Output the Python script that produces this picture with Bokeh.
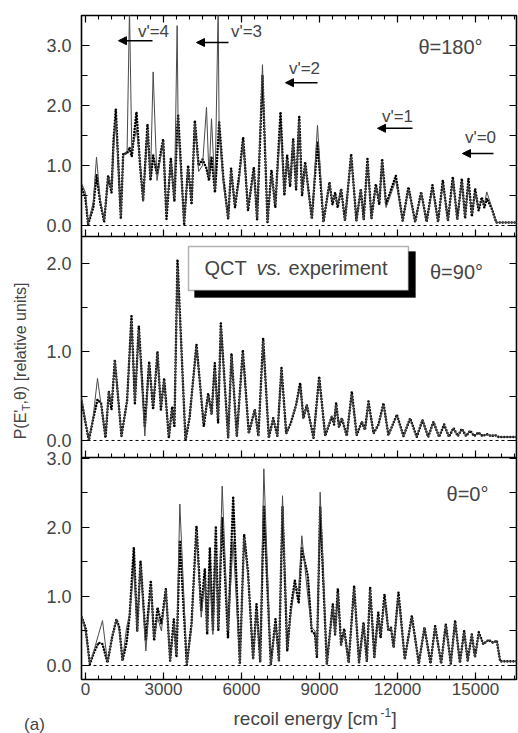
import math
from bokeh.plotting import figure
from bokeh.layouts import row, column
from bokeh.models import (LinearAxis, Range1d, Span, Label, Arrow, NormalHead,
                          BoxAnnotation, SingleIntervalTicker, FixedTicker)
from bokeh.embed import file_html
from bokeh.resources import INLINE

FONT = "Liberation Sans"
X_RANGE = (-154, 16577)

# ---------------- data: recoil energy [cm-1], experiment (dots), QCT (line) -------------
p1_x = [-150, 0, 100, 300, 423, 560, 718, 872, 1000, 1080, 1166, 1359, 1450, 1600, 1692, 1780,
        1961, 2100, 2217, 2384, 2500, 2602, 2750, 2987, 3115, 3282, 3420, 3525, 3564, 3795,
        3948, 4080, 4205, 4350, 4500, 4654, 4750, 4846, 4980, 5102, 5141, 5300, 5487, 5600,
        5750, 5900, 6064, 6250, 6474, 6600, 6807, 7000, 7153, 7300, 7500, 7650, 7756, 7870,
        7987, 8100, 8220, 8330, 8448, 8705, 8923, 9154, 9384, 9500, 9600, 9700, 9833, 9980,
        10218, 10420, 10589, 10700, 10845, 11000, 11166, 11300, 11410, 11560, 11935, 12200,
        12423, 12680, 12910, 13120, 13345, 13560, 13743, 13940, 14128, 14300, 14474, 14600,
        14730, 14860, 14987, 15120, 15243, 15340, 15435, 15628, 15800, 16600]
p1_exp = [0.65, 0.45, 0.02, 0.30, 0.85, 0.40, 0.06, 0.83, 0.55, 1.42, 1.94, 0.11, 1.20, 1.20, 1.30, 1.15,
          1.89, 1.00, 0.42, 1.69, 0.75, 1.17, 0.85, 1.44, 0.11, 1.11, 0.40, 1.60, 1.83, 0.03,
          1.00, 0.35, 1.75, 1.00, 1.10, 0.95, 0.75, 1.15, 0.55, 1.40, 1.72, 0.80, 0.11, 0.95,
          0.30, 0.80, 1.47, 0.25, 0.97, 0.10, 2.50, 0.06, 0.92, 0.30, 1.89, 0.50, 1.17, 0.65,
          1.44, 0.60, 1.83, 0.50, 1.06, 0.11, 1.40, 0.06, 0.72, 0.35, 0.55, 0.30, 0.61, 0.08,
          1.19, 0.08, 0.61, 0.10, 1.11, 0.12, 0.69, 0.35, 1.11, 0.35, 0.83, 0.08,
          0.64, 0.06, 0.56, 0.06, 0.67, 0.06, 0.75, 0.08, 0.81, 0.10, 0.78, 0.12,
          0.78, 0.15, 0.61, 0.25, 0.47, 0.30, 0.45, 0.28, 0.05, 0.05]
p1_qct = [0.70, 0.55, 0.02, 0.40, 1.14, 0.45, 0.08, 0.80, 0.60, 1.30, 1.75, 0.15, 1.15, 1.25, 3.60, 1.25,
          1.60, 1.05, 0.40, 1.60, 0.80, 2.56, 0.75, 1.40, 0.20, 1.05, 0.45, 3.33, 1.60, 0.05,
          0.95, 0.40, 1.70, 0.90, 1.00, 1.97, 0.80, 1.78, 0.60, 3.60, 1.50, 0.70, 0.12, 0.90,
          0.35, 0.70, 1.40, 0.30, 0.90, 0.12, 2.68, 0.06, 0.85, 0.35, 1.60, 0.55, 1.10, 0.70,
          1.40, 0.65, 1.75, 0.55, 1.00, 0.11, 1.67, 0.06, 0.70, 0.40, 0.50, 0.35, 0.60, 0.08,
          1.15, 0.08, 0.60, 0.10, 1.05, 0.12, 0.65, 0.40, 1.05, 0.30, 0.75, 0.08,
          0.60, 0.06, 0.55, 0.06, 0.62, 0.06, 0.70, 0.08, 0.75, 0.10, 0.72, 0.15,
          0.70, 0.20, 0.55, 0.30, 0.42, 0.35, 0.56, 0.30, 0.05, 0.05]

p2_x = [-150, 128, 300, 461, 600, 769, 897, 1000, 1128, 1384, 1600, 1769, 1900, 2051, 2282, 2448,
        2600, 2769, 2900, 3026, 3205, 3333, 3420, 3538, 3846, 4000, 4269, 4550, 4718, 4850,
        4974, 5100, 5205, 5487, 5615, 5820, 6051, 6280, 6512, 6650, 6833, 7050, 7220, 7380,
        7538, 7720, 7900, 8100, 8256, 8380, 8512, 8770, 8987, 9220, 9474, 9560, 9640, 9750,
        9860, 10050, 10243, 10430, 10628, 10750, 10884, 11080, 11270, 11461, 11650, 11974,
        12230, 12487, 12740, 12961, 13180, 13384, 13600, 13794, 13980, 14153, 14320, 14474,
        14640, 14794, 14950, 15115, 15270, 15435, 15600, 15756, 15884, 16600]
p2_exp = [0.44, 0.00, 0.25, 0.46, 0.42, 0.03, 0.55, 0.35, 0.91, 0.05, 0.45, 1.40, 0.42, 1.29, 0.15, 0.89,
          0.35, 1.00, 0.35, 0.70, 0.03, 0.38, 0.15, 2.04, 0.00, 0.25, 1.08, 0.16, 0.53, 0.30,
          0.87, 0.20, 1.32, 0.03, 0.98, 0.05, 1.02, 0.08, 0.35, 0.05, 1.15, 0.03, 0.25, 0.05,
          0.82, 0.08, 0.20, 0.40, 0.65, 0.25, 0.40, 0.03, 0.72, 0.05, 0.27, 0.18, 0.42, 0.15,
          0.25, 0.05, 0.55, 0.06, 0.21, 0.12, 0.44, 0.08, 0.18, 0.42, 0.06, 0.29,
          0.05, 0.25, 0.04, 0.23, 0.04, 0.21, 0.04, 0.18, 0.04, 0.14, 0.05, 0.13,
          0.05, 0.11, 0.05, 0.09, 0.05, 0.07, 0.05, 0.06, 0.04, 0.04]
p2_qct = [0.48, 0.00, 0.28, 0.70, 0.40, 0.05, 0.55, 0.40, 0.90, 0.05, 0.45, 1.35, 0.45, 1.25, 0.05, 0.85,
          0.40, 0.98, 0.40, 0.68, 0.05, 0.35, 0.20, 1.95, 0.02, 0.25, 1.05, 0.20, 0.50, 0.30,
          0.80, 0.25, 1.28, 0.03, 0.95, 0.05, 0.98, 0.08, 0.35, 0.05, 1.12, 0.03, 0.25, 0.05,
          0.80, 0.08, 0.20, 0.40, 0.60, 0.25, 0.40, 0.03, 0.70, 0.05, 0.28, 0.20, 0.40, 0.15,
          0.25, 0.05, 0.52, 0.06, 0.22, 0.12, 0.42, 0.08, 0.18, 0.40, 0.06, 0.28,
          0.05, 0.25, 0.04, 0.23, 0.04, 0.21, 0.04, 0.18, 0.04, 0.14, 0.05, 0.13,
          0.05, 0.11, 0.05, 0.09, 0.05, 0.07, 0.05, 0.06, 0.04, 0.04]

p3_x = [-150, 0, 167, 350, 500, 654, 846, 1025, 1192, 1300, 1423, 1580, 1700, 1859, 1990, 2115,
        2320, 2513, 2640, 2770, 2920, 3090, 3256, 3397, 3500, 3628, 3897, 4077, 4269, 4450,
        4590, 4680, 4782, 4900, 5013, 5110, 5256, 5480, 5679, 5936, 6102, 6250, 6448, 6577,
        6720, 6859, 7128, 7307, 7440, 7577, 7760, 7900, 8051, 8200, 8320, 8551, 8700, 8830,
        8900, 9025, 9282, 9512, 9600, 9705, 9830, 9950, 10120, 10333, 10520, 10692, 10820,
        10948, 11110, 11260, 11350, 11500, 11650, 11750, 11850, 12038, 12280, 12551, 12820,
        13038, 13270, 13448, 13680, 13858, 14050, 14217, 14400, 14564, 14700, 14858, 14980,
        15127, 15300, 15500, 15680, 15820, 15950, 16600]
p3_exp = [0.70, 0.55, 0.02, 0.21, 0.33, 0.31, 0.04, 0.41, 0.67, 0.55, 0.07, 0.33, 0.74, 1.71, 0.50, 1.52,
          0.36, 1.23, 0.36, 0.84, 0.60, 1.11, 0.07, 0.67, 0.12, 1.81, 0.01, 0.60, 2.02, 0.79,
          1.40, 0.45, 1.71, 0.50, 2.02, 0.50, 2.14, 0.40, 2.43, 0.02, 1.90, 1.35, 0.09, 0.89,
          0.05, 2.30, 0.01, 0.67, 0.07, 2.30, 0.21, 0.84, 1.23, 0.90, 1.70, 1.30, 0.50, 0.45,
          0.12, 2.30, 0.02, 0.89, 0.45, 1.11, 0.30, 0.53, 0.04, 1.15, 0.04, 0.62, 0.06,
          1.13, 0.12, 0.77, 0.40, 1.03, 0.50, 0.55, 0.26, 1.06, 0.09, 0.72, 0.03,
          0.55, 0.03, 0.57, 0.03, 0.60, 0.03, 0.65, 0.04, 0.50, 0.07, 0.45, 0.12,
          0.48, 0.31, 0.37, 0.33, 0.36, 0.06, 0.06]
p3_qct = [0.72, 0.50, 0.02, 0.25, 0.45, 0.65, 0.05, 0.40, 0.67, 0.50, 0.07, 0.55, 0.75, 1.40, 0.50, 1.45,
          0.21, 1.15, 0.40, 0.70, 0.50, 1.10, 0.07, 0.60, 0.15, 2.34, 0.01, 0.55, 1.95, 0.70,
          1.25, 0.50, 1.35, 0.45, 1.60, 0.55, 2.60, 0.50, 1.80, 0.02, 1.85, 1.30, 0.09, 0.80,
          0.05, 2.85, 0.01, 0.60, 0.07, 2.46, 0.25, 0.75, 1.15, 1.10, 1.88, 1.00, 0.55, 0.50,
          0.15, 2.51, 0.02, 0.85, 0.45, 1.05, 0.30, 0.50, 0.04, 1.12, 0.04, 0.60, 0.06,
          1.10, 0.12, 0.70, 0.45, 0.95, 0.50, 0.55, 0.26, 1.00, 0.09, 0.70, 0.03,
          0.55, 0.03, 0.55, 0.03, 0.58, 0.03, 0.62, 0.04, 0.48, 0.07, 0.45, 0.12,
          0.46, 0.31, 0.37, 0.33, 0.36, 0.06, 0.06]

panel_titles = ["\u03b8=180\u00b0", "\u03b8=90\u00b0", "\u03b8=0\u00b0"]
panel_y_labels = [[0, 1, 2, 3], [0, 1, 2], [0, 1, 2, 3]]
v_labels = ["v'=4", "v'=3", "v'=2", "v'=1", "v'=0"]
x_major_step = 3000
x_minor_step = 500

# ---------------- page geometry ----------------
LEFT_W = 40          # strip for the rotated y title
MAIN_W = 478
MAIN_H = 705
BOTTOM_H = 28        # strip for the x title and "(a)"

FRAME_H = 664
TOP_B = 15
panel_h = [221, 221, 222]                       # top, middle, bottom
panel_lims = [(-0.183, 3.5), (-0.192, 2.30), (-0.203, 3.014)]
panel_bottom = [FRAME_H - panel_h[0], FRAME_H - panel_h[0] - panel_h[1], 0]

p = figure(width=MAIN_W, height=MAIN_H, x_range=Range1d(*X_RANGE), y_range=Range1d(0, FRAME_H),
           output_backend="svg", toolbar_location=None,
           x_axis_location=None, y_axis_location=None,
           min_border_left=81 - LEFT_W, min_border_right=2, min_border_top=TOP_B,
           min_border_bottom=MAIN_H - TOP_B - FRAME_H)
p.grid.visible = False
p.outline_line_color = "black"
p.outline_line_width = 1.6
p.background_fill_color = "white"
p.border_fill_color = "white"

names = ["p1", "p2", "p3"]
for k in range(3):
    lo, hi = panel_lims[k]
    s = (hi - lo) / panel_h[k]
    p.extra_y_ranges[names[k]] = Range1d(lo - panel_bottom[k] * s, lo + (FRAME_H - panel_bottom[k]) * s)


def to_pos(k, v):
    lo, hi = panel_lims[k]
    return panel_bottom[k] + (v - lo) / (hi - lo) * panel_h[k]


# ---- y axes (left with labels, right ticks only)
major_pos, minor_pos, overrides, right_pos = [], [], {}, []
for k in range(3):
    for v in panel_y_labels[k]:
        pos = int(round(to_pos(k, v)))
        major_pos.append(pos)
        overrides[pos] = "%.1f" % v
    lo, hi = panel_lims[k]
    h = 0.0
    while h <= hi + 1e-9:
        if h >= lo:
            right_pos.append(int(round(to_pos(k, h))))
            if abs(h - round(h)) > 1e-6:
                minor_pos.append(int(round(to_pos(k, h))))
        h += 0.5

ly = LinearAxis(ticker=FixedTicker(ticks=major_pos, minor_ticks=minor_pos))
ly.major_label_overrides = overrides
ly.major_tick_in = 8
ly.major_tick_out = 0
ly.minor_tick_in = 6
ly.minor_tick_out = 0
ly.major_tick_line_width = 1.2
ly.axis_line_color = None
ly.major_label_text_font = FONT
ly.major_label_text_font_size = "18px"
ly.major_label_standoff = 10
p.add_layout(ly, "left")

ry = LinearAxis(ticker=FixedTicker(ticks=right_pos, minor_ticks=[]))
ry.major_tick_in = 7
ry.major_tick_out = 0
ry.minor_tick_in = 0
ry.minor_tick_out = 0
ry.major_tick_line_width = 1.2
ry.axis_line_color = None
ry.major_label_text_font_size = "0px"
ry.major_label_standoff = 0
p.add_layout(ry, "right")


# ---- x axes
def xaxis(loc, labels):
    ax = LinearAxis(ticker=SingleIntervalTicker(interval=x_major_step, num_minor_ticks=x_major_step // x_minor_step))
    ax.major_tick_in = 7
    ax.major_tick_out = 0
    ax.minor_tick_in = 4
    ax.minor_tick_out = 0
    ax.major_tick_line_width = 1.2
    ax.minor_tick_line_width = 1.1
    ax.axis_line_color = None
    if labels:
        ax.major_label_text_font = FONT
        ax.major_label_text_font_size = "17px"
        ax.major_label_standoff = 3
    else:
        ax.major_label_text_font_size = "0px"
        ax.major_label_standoff = 0
    p.add_layout(ax, loc)
    return ax


xaxis("below", True)
xaxis("above", False)

# ---- panel separators and their upward ticks
xt_major = list(range(0, int(X_RANGE[1]) + 1, x_major_step))
xt_minor = [v for v in range(0, int(X_RANGE[1]) + 1, x_minor_step) if v % x_major_step]
for b in panel_bottom[:2]:
    p.add_layout(Span(location=b, dimension="width", line_color="black", line_width=1.6))
    p.segment(x0=xt_major, y0=[b] * len(xt_major), x1=xt_major, y1=[b + 7] * len(xt_major),
              line_color="black", line_width=1.2)
    p.segment(x0=xt_minor, y0=[b] * len(xt_minor), x1=xt_minor, y1=[b + 4] * len(xt_minor),
              line_color="black", line_width=1.1)

# ---- data
for k, (xs, ex, qc) in enumerate([(p1_x, p1_exp, p1_qct), (p2_x, p2_exp, p2_qct), (p3_x, p3_exp, p3_qct)]):
    p.add_layout(Span(location=0, dimension="width", y_range_name=names[k], line_color="black",
                      line_width=1, line_dash="3 3"))
    p.line(xs, ex, y_range_name=names[k], line_color="black", line_width=2.6, line_dash="0 3",
           line_cap="round")
    p.line(xs, qc, y_range_name=names[k], line_color="#4a4a4a", line_width=1.0)

# ---- theta labels
for k, ((tx, ty), t) in enumerate(zip([(14038, 2.975), (14270, 1.905), (14692, 2.49)], panel_titles)):
    p.add_layout(Label(x=tx, y=ty, y_range_name=names[k], text=t, text_font=FONT,
                       text_font_size="20px", text_align="center", text_baseline="middle"))

# ---- v' labels and arrows (top panel)
v_text_pos = [(2615, 3.23), (6192, 3.23), (8423, 2.62), (12000, 1.82), (15192, 1.47)]
v_arrows = [(2577, 1269, 3.08), (5500, 4269, 3.05), (8923, 7692, 2.38), (12577, 11231, 1.62), (15692, 14500, 1.20)]
for t, (tx, ty), (xs_, xe_, ya) in zip(v_labels, v_text_pos, v_arrows):
    p.add_layout(Label(x=tx, y=ty, y_range_name="p1", text=t, text_font=FONT, text_font_size="17px",
                       text_align="center", text_baseline="middle"))
    p.add_layout(Arrow(end=NormalHead(size=8, fill_color="black", line_color="black"),
                       x_start=xs_, y_start=ya, x_end=xe_, y_end=ya, y_range_name="p1",
                       line_color="black", line_width=1.4))

# ---- "QCT vs. experiment" box with shadow (middle panel)
p.add_layout(BoxAnnotation(left=4192, right=12692, bottom=1.612, top=2.131, y_range_name="p2",
                           fill_color="black", fill_alpha=1, line_color="black"))
p.add_layout(BoxAnnotation(left=3962, right=12423, bottom=1.691, top=2.187, y_range_name="p2",
                           fill_color="white", fill_alpha=1, line_color="black", line_width=1.5))
for tx, t, st in [(4577, "QCT", "normal"), (6577, "vs.", "italic"), (7808, "experiment", "normal")]:
    p.add_layout(Label(x=tx, y=1.94, y_range_name="p2", text=t, text_font=FONT, text_font_size="20px",
                       text_font_style=st, text_align="left", text_baseline="middle"))


# ---- strips holding the axis titles (pixel coordinates inside each strip)
def strip(w, h):
    f = figure(width=w, height=h, x_range=Range1d(0, w), y_range=Range1d(0, h),
               output_backend="svg", toolbar_location=None,
               x_axis_location=None, y_axis_location=None,
               min_border_left=0, min_border_right=0, min_border_top=0, min_border_bottom=0)
    f.grid.visible = False
    f.outline_line_color = None
    f.background_fill_color = "white"
    f.border_fill_color = "white"
    return f


yl = strip(LEFT_W, MAIN_H)
yl.add_layout(Label(x=20, y=MAIN_H - 450, text="P(E'", angle=math.pi / 2, text_font=FONT,
                    text_font_size="16px", text_align="left", text_baseline="middle"))
yl.add_layout(Label(x=25.5, y=MAIN_H - 420, text="T", angle=math.pi / 2, text_font=FONT,
                    text_font_size="11px", text_align="left", text_baseline="middle"))
yl.add_layout(Label(x=20, y=MAIN_H - 413, text=",\u03b8) [relative units]", angle=math.pi / 2,
                    text_font=FONT, text_font_size="16px", text_align="left", text_baseline="middle"))

xl = strip(LEFT_W + MAIN_W, BOTTOM_H)
xl.add_layout(Label(x=233, y=15, text="recoil energy [cm", text_font=FONT, text_font_size="19px",
                    text_align="left", text_baseline="middle"))
xl.add_layout(Label(x=380, y=21, text="-1", text_font=FONT, text_font_size="12px",
                    text_align="left", text_baseline="middle"))
xl.add_layout(Label(x=391, y=15, text="]", text_font=FONT, text_font_size="19px",
                    text_align="left", text_baseline="middle"))
xl.add_layout(Label(x=34, y=9, text="(a)", text_font=FONT, text_font_size="17px",
                    text_align="center", text_baseline="middle"))

layout = column(row(yl, p, spacing=0), xl, spacing=0)
open("out.html", "w").write(file_html(layout, INLINE))
